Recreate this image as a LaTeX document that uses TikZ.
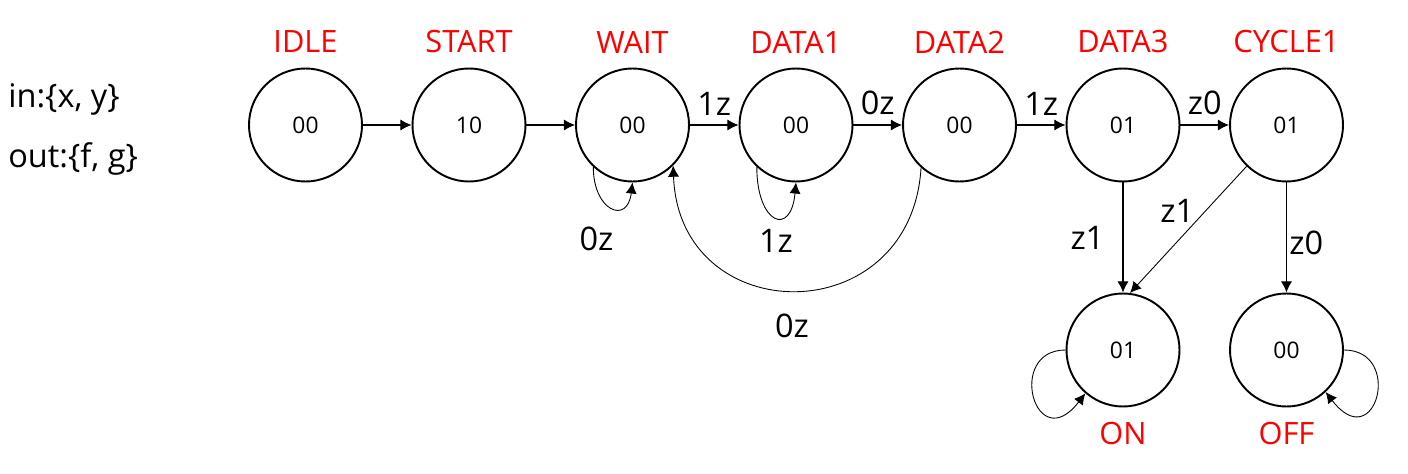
\documentclass[tikz,border=0pt]{standalone}
\usepackage{fontspec}
\setmainfont{Open Sans}
\usetikzlibrary{arrows.meta}
\definecolor{fsmred}{RGB}{255,0,0}
\tikzstyle{fsmstate} = [circle, draw=black, line width=1.1pt, minimum size=2.26cm, inner sep=0pt, font=\fontsize{13}{15}\selectfont]
\tikzstyle{statename} = [text=fsmred, font=\fontsize{17.5}{21}\selectfont]
\tikzstyle{edgelabel} = [font=\fontsize{18.5}{22}\selectfont]
\tikzstyle{arrow} = [line width=0.6pt, -{Latex[length=6.3pt,width=6.3pt]}]

\begin{document}
\begin{tikzpicture}[node distance=3.27cm]
\useasboundingbox (0,0) rectangle (28.16,9.46);

\node (inset) [edgelabel, anchor=base west, inner sep=0pt] at (0.16,7.30) {in:\{x, y\}};
\node (outset) [edgelabel, anchor=base west, inner sep=0pt] at (0.16,6.12) {out:\{f, g\}};

\node (idle) [fsmstate] at (6.11,6.96) {00};
\node (start) [fsmstate, right of=idle] {10};
\node (wait) [fsmstate, right of=start] {00};
\node (data1) [fsmstate, right of=wait] {00};
\node (data2) [fsmstate, right of=data1] {00};
\node (data3) [fsmstate, right of=data2] {01};
\node (cycle1) [fsmstate, right of=data3] {01};
\node (on) [fsmstate, below of=data3, yshift=-1.23cm] {01};
\node (off) [fsmstate, below of=cycle1, yshift=-1.23cm] {00};

\node (idlename) [statename, yshift=1.66cm] at (idle) {IDLE};
\node (startname) [statename, yshift=1.66cm] at (start) {START};
\node (waitname) [statename, yshift=1.66cm] at (wait) {WAIT};
\node (data1name) [statename, yshift=1.66cm] at (data1) {DATA1};
\node (data2name) [statename, yshift=1.66cm] at (data2) {DATA2};
\node (data3name) [statename, yshift=1.66cm] at (data3) {DATA3};
\node (cycle1name) [statename, yshift=1.66cm] at (cycle1) {CYCLE1};
\node (onname) [statename, yshift=-1.66cm] at (on) {ON};
\node (offname) [statename, yshift=-1.66cm] at (off) {OFF};

\node (waitloop) [edgelabel, xshift=-0.72cm, yshift=-1.12cm] at (wait.south) {0z};
\node (data1loop) [edgelabel, xshift=-0.40cm, yshift=-1.16cm] at (data1.south) {1z};
\node (backlabel) [edgelabel, xshift=-0.08cm, yshift=-2.86cm] at (data1.south) {0z};

\draw [arrow] (idle) -- (start);
\draw [arrow] (start) -- (wait);
\draw [arrow] (wait) -- node[edgelabel, above=2pt] (waitout) {1z} (data1);
\draw [arrow] (data1) -- node[edgelabel, above=2pt] (data1out) {0z} (data2);
\draw [arrow] (data2) -- node[edgelabel, above=2pt] (data2out) {1z} (data3);
\draw [arrow] (data3) -- node[edgelabel, above=2pt] (data3out) {z0} (cycle1);
\draw [arrow] (data3) -- node[edgelabel, left=7pt] (data3on) {z1} (on);
\draw [arrow, line width=0.5pt] (cycle1.226) -- node[edgelabel, pos=0.35, left=3pt] (cycle1on) {z1} (on.83);
\draw [arrow] (cycle1) -- node[edgelabel, pos=0.55, right=-2pt] (cycle1off) {z0} (off);
\draw [arrow, line width=0.5pt] (wait.227) .. controls +(0,-0.88) and +(-0.1,-0.85) .. (wait.south);
\draw [arrow, line width=0.5pt] (data1.227) .. controls +(0,-1.14) and +(-0.1,-1.1) .. (data1.south);
\draw [arrow, line width=0.5pt] (data2.228) .. controls +(-0.2,-3.3) and +(0.12,-3.3) .. (wait.315);
\draw [arrow, line width=0.5pt] (on.west) .. controls +(-1.2,0) and +(-1.0,-1.3) .. (on.229);
\draw [arrow, line width=0.5pt] (off.east) .. controls +(1.2,0) and +(1.0,-1.3) .. (off.313);

\end{tikzpicture}
\end{document}
